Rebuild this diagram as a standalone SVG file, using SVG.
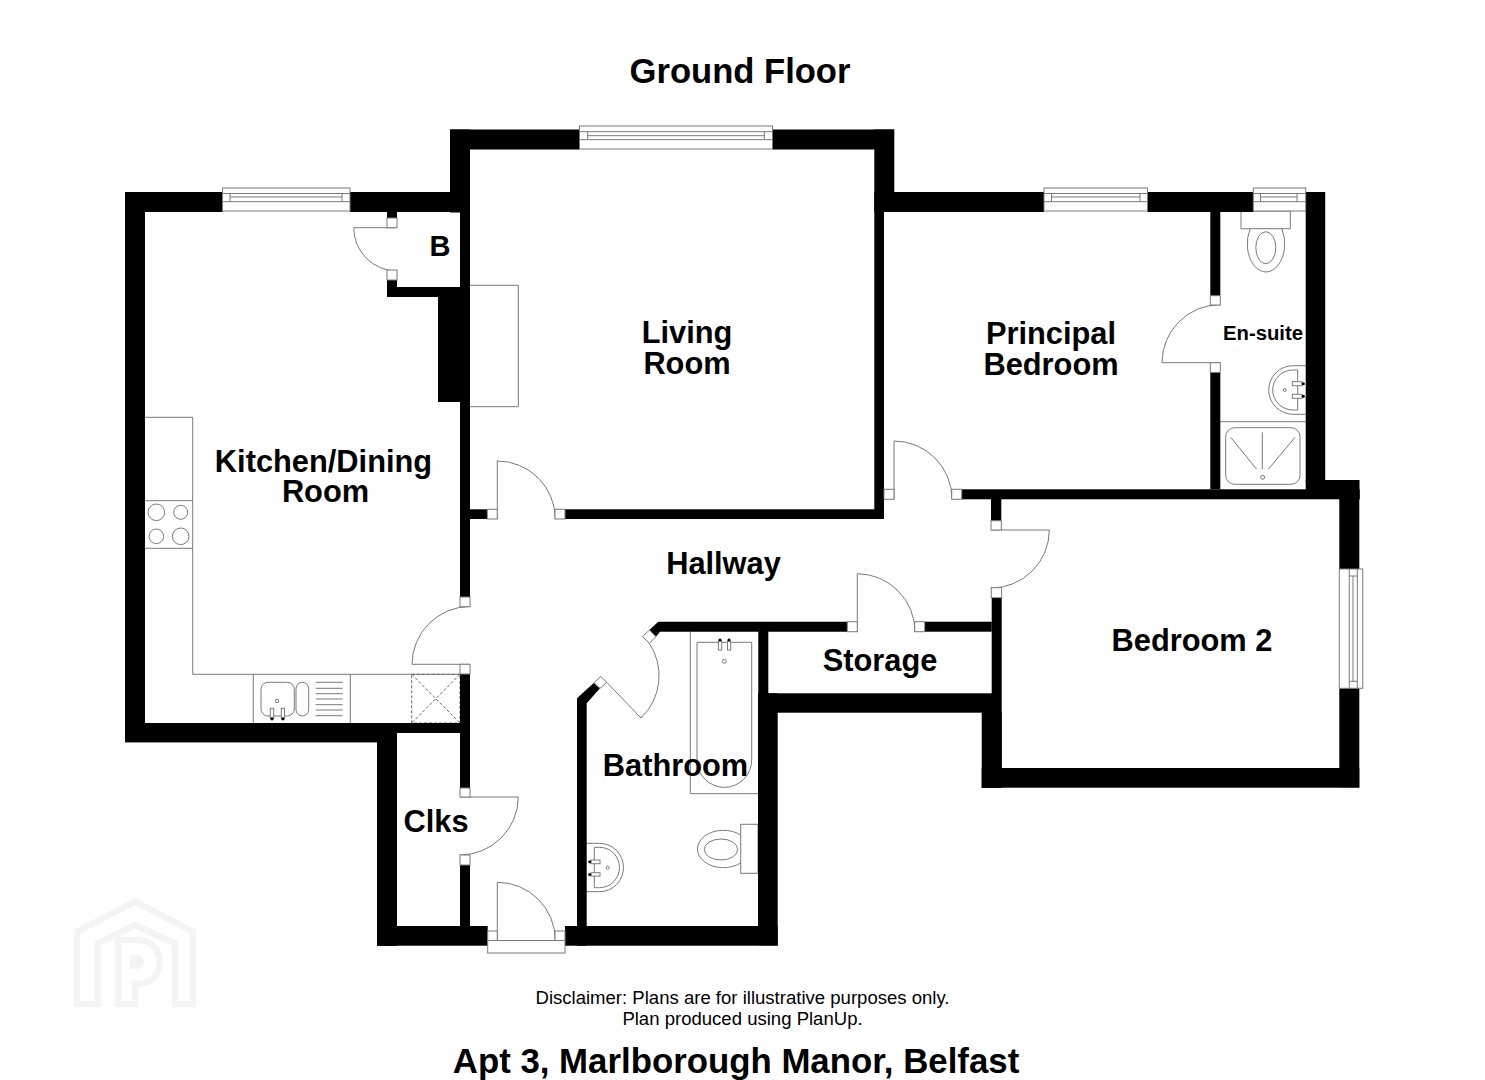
<svg xmlns="http://www.w3.org/2000/svg" width="1485" height="1080" viewBox="0 0 1485 1080">
<style>
.wall{fill:#000}
.ln{fill:none;stroke:#7a7a7a;stroke-width:1}
.jamb{fill:#fff;stroke:#7a7a7a;stroke-width:1}
.dash{fill:none;stroke:#666;stroke-width:1;stroke-dasharray:3 2}
.dot{fill:#000}
.lab{font-family:"Liberation Sans",Arial,sans-serif;font-weight:700;font-size:30.8px;fill:#000;text-anchor:middle}
.note{font-family:"Liberation Sans",Arial,sans-serif;font-size:18.56px;fill:#000;text-anchor:middle}
.wm{fill:none;stroke:#f4f4f4;stroke-width:6.5}
</style>
<rect width="1485" height="1080" fill="#fff"/>
<g id="watermark">
<path class="wm" d="M98 1004H77V931.7L135 901.7L193 931.7V1004H175V943.3L135 925L98 943.3Z"/>
<path class="wm" d="M118 1004V940H138A22 22 0 0 1 138 984H135V1004Z"/>
<path d="M130 955H137A7 7 0 0 1 137 969H130Z" fill="#f4f4f4"/>
</g>
<g id="fixtures">
<!-- kitchen -->
<path class="ln" d="M145 417.3H192.7V674.3H460M145 500.7H192.7M145 548.3H192.7"/>
<circle class="ln" cx="156.3" cy="512.3" r="8.3"/><circle class="ln" cx="180.7" cy="512.3" r="7"/><circle class="ln" cx="156.3" cy="536.3" r="7.3"/><circle class="ln" cx="180.7" cy="536.3" r="8.3"/>
<path class="ln" d="M253.3 674.3V723M350.3 674.3V723"/>
<rect class="ln" x="261" y="682.3" width="33.3" height="33.7" rx="7"/>
<rect class="ln" x="296" y="682.3" width="12.7" height="33.7" rx="6.3"/>
<path class="ln" d="M315.7 682.3H342.7M315.7 688.3H342.7M315.7 693.7H342.7M315.7 699H342.7M315.7 704.7H342.7M315.7 710H342.7M315.7 715.7H342.7"/>
<circle class="ln" cx="277" cy="701" r="1.7"/>
<rect class="jamb" x="270.3" y="708.3" width="3.4" height="10"/><rect class="jamb" x="281.3" y="708.3" width="3.2" height="10"/>
<circle class="dot" cx="272" cy="718.8" r="1.6"/><circle class="dot" cx="282.9" cy="718.8" r="1.6"/>
<path class="dash" d="M411.7 674.3H460V723H411.7ZM411.7 674.3L460 723M460 674.3L411.7 723"/>
<!-- fireplace -->
<path class="ln" d="M470 285.3H518.3V406.7H470"/>
<!-- bath -->
<path class="ln" d="M690.3 631.7V793.7H758.3"/>
<path class="ln" d="M697 642.3H751.7V760A27.35 27.35 0 0 1 697 760Z"/>
<rect class="jamb" x="718.3" y="641" width="3.4" height="9"/><rect class="jamb" x="727.5" y="641" width="3.2" height="9"/>
<circle class="dot" cx="720" cy="640" r="1.5"/><circle class="dot" cx="729" cy="640" r="1.5"/>
<circle class="ln" cx="724.3" cy="661.3" r="2"/>
<!-- bathroom wc -->
<rect class="ln" x="740.7" y="824.3" width="17.3" height="49"/>
<path class="ln" d="M740.7 835A26 18.7 0 1 0 740.7 863"/>
<ellipse class="ln" cx="721" cy="849.5" rx="16.7" ry="10.5"/>
<!-- bathroom basin -->
<path class="ln" d="M586.7 843.3H599.5A24 24.2 0 0 1 599.5 891.7H586.7"/>
<path class="ln" d="M594.3 847.3V887.7H599.5A20 20.2 0 0 0 599.5 847.3Z"/>
<rect class="jamb" x="591" y="860" width="9" height="3.7"/><rect class="jamb" x="591" y="872.7" width="9" height="3.4"/>
<circle class="dot" cx="589.7" cy="861.8" r="1.5"/><circle class="dot" cx="589.7" cy="874.4" r="1.5"/>
<circle class="ln" cx="607.7" cy="867.7" r="1.5"/>
<!-- en-suite wc -->
<rect class="ln" x="1241" y="211" width="49.3" height="17.7"/>
<path class="ln" d="M1250.2 228.7A18.7 28.2 0 1 0 1281.8 228.7"/>
<ellipse class="ln" cx="1265.8" cy="247.7" rx="10" ry="16"/>
<!-- en-suite basin -->
<path class="ln" d="M1305.7 365.7H1293A24.3 24.3 0 0 0 1293 414.3H1305.7"/>
<path class="ln" d="M1297.7 370V410H1293A20.3 20 0 0 1 1293 370Z"/>
<rect class="jamb" x="1292.3" y="381.7" width="9.7" height="4"/><rect class="jamb" x="1292.3" y="394.3" width="9.7" height="4"/>
<circle class="dot" cx="1303.3" cy="383.7" r="1.5"/><circle class="dot" cx="1303.3" cy="396.3" r="1.5"/>
<circle class="ln" cx="1284.7" cy="390" r="1.5"/>
<!-- shower -->
<path class="ln" d="M1220 421.7H1305.7"/>
<rect class="ln" x="1225.7" y="427.7" width="74.3" height="56.6" rx="9"/>
<path class="ln" d="M1262.3 432.3V469.3M1230.7 437.3L1256.7 469.3M1295 437.3L1268.3 469.3"/>
<circle class="ln" cx="1262.7" cy="477.3" r="2"/>
</g>
<g id="walls">
<rect class="wall" x="125" y="192" width="20" height="550"/>
<rect class="wall" x="125" y="192" width="97.5" height="20"/>
<rect class="wall" x="350" y="192" width="120" height="20"/>
<rect class="wall" x="387" y="212" width="10" height="6"/>
<rect class="wall" x="387" y="280" width="10" height="17"/>
<rect class="wall" x="387" y="287" width="83" height="10"/>
<rect class="wall" x="438" y="287" width="32" height="115"/>
<rect class="wall" x="460" y="212" width="10" height="385"/>
<rect class="wall" x="460" y="674" width="10" height="114"/>
<rect class="wall" x="460" y="865" width="10" height="61"/>
<rect class="wall" x="125" y="723" width="252" height="19.4"/>
<rect class="wall" x="377" y="723" width="93" height="10"/>
<rect class="wall" x="377" y="723" width="20" height="223"/>
<rect class="wall" x="377" y="926" width="110.7" height="19.7"/>
<rect class="wall" x="565" y="926" width="212.7" height="19.7"/>
<path class="wall" d="M577 945.7V698.3L594 682.7L600 688.3L586.7 703.3V945.7Z"/>
<path class="wall" d="M649.3 630L658.3 621.7H847.3V631.7H660L656 636.7Z"/>
<rect class="wall" x="758.3" y="631" width="10" height="63"/>
<rect class="wall" x="758" y="693.3" width="19.7" height="252"/>
<rect class="wall" x="768" y="693.3" width="224" height="19.4"/>
<rect class="wall" x="924.7" y="621.7" width="67" height="10"/>
<rect class="wall" x="991.7" y="598" width="10" height="190"/>
<rect class="wall" x="981.7" y="712" width="20" height="76"/>
<rect class="wall" x="981.7" y="768" width="377.6" height="19.7"/>
<rect class="wall" x="1339.3" y="480" width="20" height="89"/>
<rect class="wall" x="1339.3" y="688.3" width="20" height="99"/>
<rect class="wall" x="961.7" y="489.3" width="398" height="10"/>
<rect class="wall" x="1305.7" y="480" width="53.6" height="19"/>
<rect class="wall" x="991" y="499" width="10.3" height="22"/>
<rect class="wall" x="1305.7" y="192" width="19.5" height="290"/>
<rect class="wall" x="874.3" y="192" width="169.7" height="20"/>
<rect class="wall" x="1147.5" y="192" width="106" height="20"/>
<rect class="wall" x="1210.3" y="212" width="10" height="84"/>
<rect class="wall" x="1210.3" y="372.3" width="10" height="117"/>
<rect class="wall" x="450" y="129.5" width="129.5" height="20"/>
<rect class="wall" x="772.5" y="129.5" width="121.5" height="20"/>
<rect class="wall" x="450" y="129.5" width="20" height="83"/>
<rect class="wall" x="874.3" y="129.5" width="20" height="82.5"/>
<rect class="wall" x="874.3" y="212" width="9.7" height="307"/>
<rect class="wall" x="565" y="509.3" width="319" height="9.7"/>
<rect class="wall" x="470" y="509.3" width="17.3" height="9.7"/>
</g>
<g id="windows">
<g id="window-kitchen"><rect class="jamb" x="222.5" y="188" width="127.5" height="23"/><path class="ln" d="M222.5 193.5H350M230 197H342M222.5 201.7H350M230 193.5V201.7M342 193.5V201.7"/></g>
<g id="window-living"><rect class="jamb" x="579.5" y="126" width="193" height="23"/><path class="ln" d="M579.5 131.7H772.5M587.7 135.7H764.3M579.5 139.7H772.5M587.7 131.7V139.7M764.3 131.7V139.7"/></g>
<g id="window-principal"><rect class="jamb" x="1044" y="188" width="103.5" height="23"/><path class="ln" d="M1044 193.5H1147.5M1051.5 197H1140M1044 201.7H1147.5M1051.5 193.5V201.7M1140 193.5V201.7"/></g>
<g id="window-ensuite"><rect class="jamb" x="1253.3" y="188" width="52.4" height="23"/><path class="ln" d="M1253.3 193.5H1305.7M1260.5 197H1297M1253.3 201.7H1305.7M1260.5 193.5V201.7M1297 193.5V201.7"/></g>
<g id="window-bedroom2"><rect class="jamb" x="1339.3" y="569" width="23.4" height="119.3"/><path class="ln" d="M1349.3 569V688.3M1353 576V681.3M1357.3 569V688.3M1349.3 576H1357.3M1349.3 681.3H1357.3"/></g>
<g id="window-entrance"><rect class="jamb" x="487.7" y="940.5" width="77.3" height="12.5"/></g>
</g>
<g id="doors">
<g id="door-cupboard"><path class="ln" d="M397 227.7H353.7A43.3 43.3 0 0 0 397 271"/><rect class="jamb" x="387" y="218" width="10" height="9.7"/><rect class="jamb" x="387" y="270" width="10" height="10"/></g>
<g id="door-living"><path class="ln" d="M497.3 519V461A58 58 0 0 1 555.3 519"/><rect class="jamb" x="487.3" y="509.3" width="10" height="9.7"/><rect class="jamb" x="555" y="509.3" width="10" height="9.7"/></g>
<g id="door-kitchen"><path class="ln" d="M470 664.3H412A58 58 0 0 1 470 606.5"/><rect class="jamb" x="460" y="597" width="10" height="9.7"/><rect class="jamb" x="460" y="664.3" width="10" height="9.7"/></g>
<g id="door-clks"><path class="ln" d="M460 797H518.3A58.3 58.3 0 0 1 460 855"/><rect class="jamb" x="460" y="788" width="10" height="9"/><rect class="jamb" x="460" y="855" width="10" height="10"/></g>
<g id="door-entrance"><path class="ln" d="M497.3 940.5V882.3A58 58 0 0 1 555.3 940.5"/><rect class="jamb" x="487.7" y="931" width="9.6" height="9.5"/><rect class="jamb" x="555" y="931" width="10" height="9.5"/></g>
<g id="door-bathroom"><path class="ln" d="M606.7 682.3L641 718A58.5 58.5 0 0 0 649.3 643.3"/><path class="jamb" d="M594 682.7L600.7 676.3L606.7 682.3L600 688.3Z"/><path class="jamb" d="M642.7 636.7L649.3 630L656 636.7L649.3 643.3Z"/></g>
<g id="door-storage"><path class="ln" d="M857.3 631.7V573.7A58 58 0 0 1 915 631.7"/><rect class="jamb" x="847.3" y="621.7" width="10" height="10"/><rect class="jamb" x="914.7" y="621.7" width="10" height="10"/></g>
<g id="door-principal"><path class="ln" d="M894 499V441A58 58 0 0 1 952 499"/><rect class="jamb" x="884" y="489.3" width="10" height="10"/><rect class="jamb" x="951.7" y="489.3" width="10" height="10"/></g>
<g id="door-bedroom2"><path class="ln" d="M991.3 530H1049.3A58 58 0 0 1 991.3 588"/><rect class="jamb" x="991" y="520.7" width="10.3" height="9.3"/><rect class="jamb" x="991.3" y="587.7" width="10.3" height="10"/></g>
<g id="door-ensuite"><path class="ln" d="M1220.3 362.7H1162A58 58 0 0 1 1220.3 304.7"/><rect class="jamb" x="1210.3" y="295.7" width="10" height="9.3"/><rect class="jamb" x="1210.3" y="362.7" width="10" height="9.7"/></g>
</g>
<g id="labels">
<text class="lab" x="740" y="82.5" style="font-size:34.6px">Ground Floor</text>
<g id="room-kitchen"><text class="lab" x="323.5" y="471.5">Kitchen/Dining</text><text class="lab" x="325.5" y="502">Room</text></g>
<g id="room-cupboard"><text class="lab" x="440" y="255.7" style="font-size:29px">B</text></g>
<g id="room-living"><text class="lab" x="687" y="343">Living</text><text class="lab" x="687" y="374">Room</text></g>
<g id="room-principal"><text class="lab" x="1051" y="344">Principal</text><text class="lab" x="1051" y="375">Bedroom</text></g>
<g id="room-ensuite"><text class="lab" x="1263" y="340" style="font-size:20.3px">En-suite</text></g>
<g id="room-hallway"><text class="lab" x="723.5" y="574">Hallway</text></g>
<g id="room-storage"><text class="lab" x="880" y="670.5">Storage</text></g>
<g id="room-bedroom2"><text class="lab" x="1192" y="651">Bedroom 2</text></g>
<g id="room-bathroom"><text class="lab" x="675.5" y="776">Bathroom</text></g>
<g id="room-clks"><text class="lab" x="436" y="831.7">Clks</text></g>
<text class="note" x="742.5" y="1003.5">Disclaimer: Plans are for illustrative purposes only.</text>
<text class="note" x="742.5" y="1025">Plan produced using PlanUp.</text>
<text class="lab" x="736" y="1073" style="font-size:34.8px">Apt 3, Marlborough Manor, Belfast</text>
</g>
</svg>
